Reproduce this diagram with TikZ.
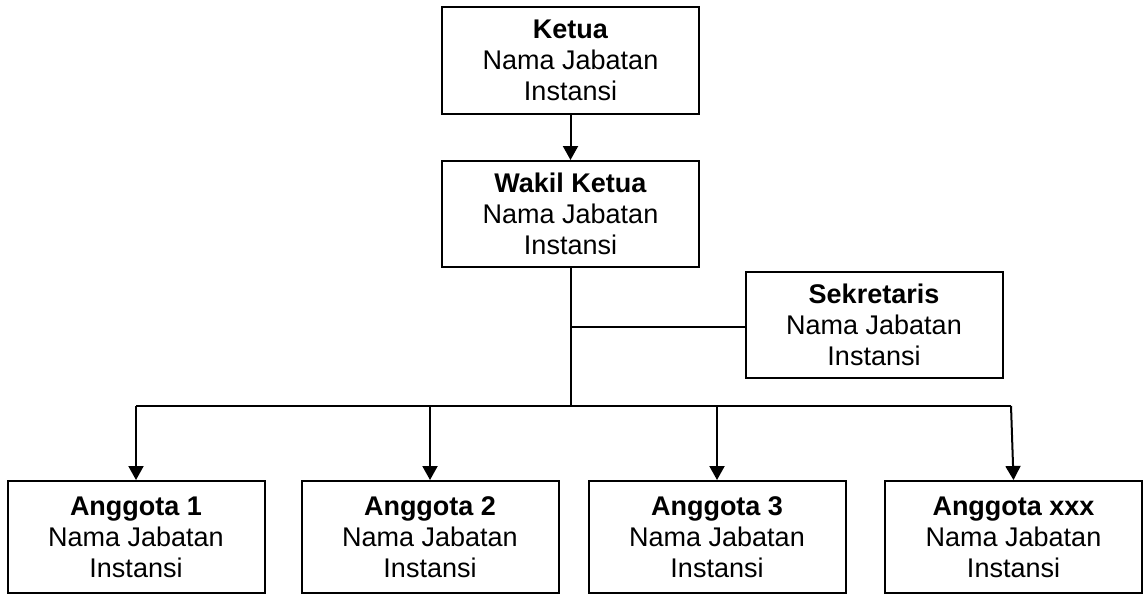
\documentclass[tikz,border=0pt]{standalone}
\usepackage{fontspec}
\setmainfont{Liberation Sans}
\usetikzlibrary{arrows.meta}
\begin{document}
\begin{tikzpicture}[x=0.5pt,y=-0.5pt,
  orgbox/.style={draw=black,line width=1pt,fill=white,rectangle,inner sep=0pt,
    minimum width=128.5pt,align=center,font=\fontsize{13.5}{15.5}\selectfont},
  link/.style={draw=black,line width=1pt},
  arrowlink/.style={link,-{Triangle[length=7pt,width=7.5pt]}}]
\useasboundingbox (0,0) rectangle (1143,594);

% top chain
\node[orgbox,minimum height=53.5pt] (ketua) at (570.5,60.5) {\textbf{Ketua}\\Nama Jabatan\\Instansi};
\node[orgbox,minimum height=53pt] (wakil) at (570.5,214) {\textbf{Wakil Ketua}\\Nama Jabatan\\Instansi};
\node[orgbox,minimum height=53pt] (sek) at (874,325) {\textbf{Sekretaris}\\Nama Jabatan\\Instansi};

% members
\node[orgbox,minimum height=56pt] (a1) at (136,537) {\textbf{Anggota 1}\\Nama Jabatan\\Instansi};
\node[orgbox,minimum height=56pt] (a2) at (430,537) {\textbf{Anggota 2}\\Nama Jabatan\\Instansi};
\node[orgbox,minimum height=56pt] (a3) at (717,537) {\textbf{Anggota 3}\\Nama Jabatan\\Instansi};
\node[orgbox,minimum height=56pt] (ax) at (1013.5,537) {\textbf{Anggota xxx}\\Nama Jabatan\\Instansi};

% junction points
\coordinate (jsek) at (570.5,327);
\coordinate (jbus) at (570.5,406);
\coordinate (busL) at (136,406);
\coordinate (busR) at (1011,406);

% connectors
\draw[arrowlink] (ketua.south) -- (wakil.north);
\draw[link] (wakil.south) -- (jbus);
\draw[link] (jsek) -- (jsek -| sek.west);
\draw[link] (busL) -- (busR);
\draw[arrowlink] (busL) -- (a1.north);
\draw[arrowlink] (a2.north |- jbus) -- (a2.north);
\draw[arrowlink] (a3.north |- jbus) -- (a3.north);
\draw[arrowlink] (busR) -- (ax.north);
\end{tikzpicture}
\end{document}
